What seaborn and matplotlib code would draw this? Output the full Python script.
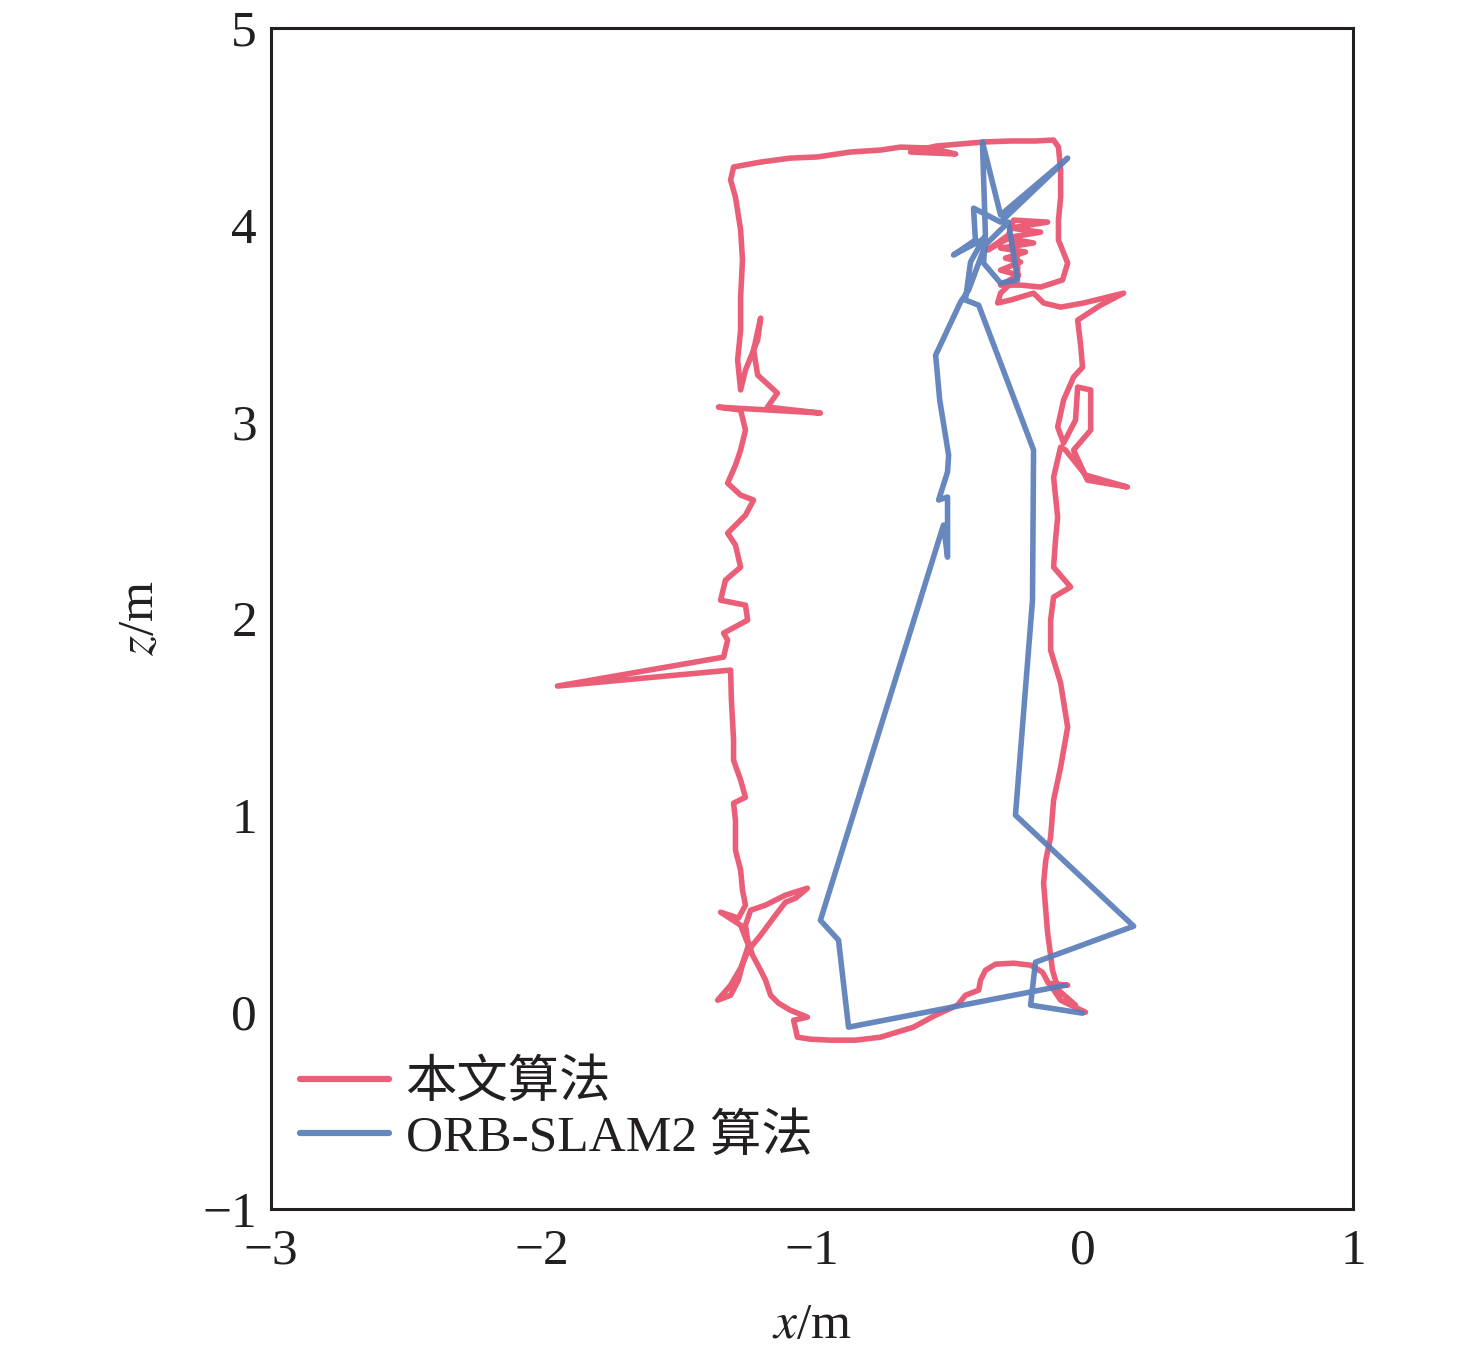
import numpy as np
import pandas as pd
import matplotlib
matplotlib.use("Agg")
import matplotlib.pyplot as plt
import seaborn as sns

# ---------------- data ----------------
ours_x = [0.011, -0.044, -0.081, -0.118, -0.055, -0.126, -0.148, -0.192, -0.255, -0.322,
          -0.359, -0.377, -0.384, -0.433, -0.462, -0.543, -0.625, -0.747, -0.839, -0.932,
          -1.006, -1.054, -1.068, -1.017, -1.080, -1.124, -1.153, -1.172, -1.190, -1.220,
          -1.238, -1.246, -1.227, -1.172, -1.098, -1.017, -1.061, -1.098, -1.135, -1.190,
          -1.235, -1.264, -1.301, -1.349, -1.301, -1.272, -1.253, -1.235, -1.264, -1.338,
          -1.272, -1.246, -1.257, -1.264, -1.283, -1.283, -1.290, -1.246, -1.264, -1.290,
          -1.290, -1.298, -1.301, -1.941, -1.327, -1.312, -1.327, -1.238, -1.246, -1.338,
          -1.320, -1.264, -1.283, -1.312, -1.246, -1.216, -1.264, -1.312, -1.283, -1.264,
          -1.246, -1.264, -1.346, -0.969, -1.165, -1.128, -1.201, -1.216, -1.190, -1.201,
          -1.246, -1.264, -1.275, -1.264, -1.264, -1.257, -1.264, -1.283, -1.301, -1.290,
          -1.190, -1.080, -0.980, -0.858, -0.747, -0.673, -0.562, -0.469, -0.636, -0.543,
          -0.451, -0.366, -0.266, -0.174, -0.107, -0.089, -0.081, -0.081, -0.089, -0.089,
          -0.055, -0.074, -0.155, -0.229, -0.303, -0.237, -0.303, -0.229, -0.285, -0.211,
          -0.303, -0.181, -0.285, -0.155, -0.266, -0.129, -0.255, -0.274, -0.351, -0.266,
          -0.240, -0.240, -0.303, -0.314, -0.266, -0.181, -0.144, -0.081, 0.004, 0.152,
          0.067, -0.018, -0.007, 0.000, -0.033, -0.070, -0.092, -0.070, -0.026, -0.018,
          0.030, 0.030, -0.033, 0.018, 0.166, 0.011, -0.063, -0.081, -0.107, -0.092,
          -0.100, -0.107, -0.044, -0.107, -0.118, -0.118, -0.081, -0.055, -0.081, -0.107,
          -0.118, -0.136, -0.144, -0.136, -0.129, -0.118, -0.111, -0.089, -0.026]
ours_z = [0.000, 0.036, 0.061, 0.137, 0.137, 0.147, 0.203, 0.239, 0.249, 0.244,
          0.213, 0.163, 0.112, 0.086, 0.036, -0.015, -0.076, -0.127, -0.142, -0.142,
          -0.137, -0.127, -0.041, -0.025, 0.010, 0.046, 0.086, 0.163, 0.213, 0.290,
          0.366, 0.442, 0.518, 0.544, 0.595, 0.630, 0.579, 0.559, 0.493, 0.391,
          0.315, 0.224, 0.137, 0.061, 0.086, 0.163, 0.264, 0.340, 0.442, 0.508,
          0.478, 0.544, 0.620, 0.722, 0.823, 0.976, 1.062, 1.092, 1.179, 1.280,
          1.382, 1.585, 1.738, 1.657, 1.804, 1.890, 1.926, 1.992, 2.068, 2.093,
          2.195, 2.261, 2.373, 2.434, 2.525, 2.602, 2.627, 2.688, 2.779, 2.856,
          2.957, 3.059, 3.074, 3.044, 3.074, 3.145, 3.237, 3.364, 3.526, 3.415,
          3.262, 3.161, 3.313, 3.465, 3.633, 3.821, 3.974, 4.141, 4.228, 4.294,
          4.319, 4.339, 4.345, 4.370, 4.380, 4.395, 4.390, 4.360, 4.370, 4.400,
          4.411, 4.421, 4.426, 4.426, 4.431, 4.395, 4.278, 4.141, 4.024, 3.923,
          3.806, 3.720, 3.684, 3.694, 3.694, 3.745, 3.770, 3.811, 3.831, 3.862,
          3.882, 3.908, 3.933, 3.963, 3.984, 4.014, 4.024, 3.948, 3.872, 3.938,
          3.821, 3.735, 3.653, 3.603, 3.618, 3.653, 3.603, 3.582, 3.603, 3.653,
          3.592, 3.516, 3.389, 3.277, 3.227, 3.110, 2.973, 2.891, 3.008, 3.176,
          3.161, 2.957, 2.856, 2.703, 2.668, 2.729, 2.856, 2.871, 2.718, 2.515,
          2.398, 2.261, 2.160, 2.109, 1.992, 1.839, 1.672, 1.448, 1.245, 1.077,
          0.889, 0.772, 0.655, 0.518, 0.401, 0.290, 0.213, 0.112, 0.036]

orb_x = [0.000, -0.192, -0.174, 0.189, -0.248, -0.185, -0.181, -0.384, -0.433, -0.414,
         -0.359, -0.370, -0.303, -0.055, -0.303, -0.403, -0.396, -0.477, -0.359, -0.366,
         -0.303, -0.240, -0.274, -0.359, -0.421, -0.451, -0.543, -0.528, -0.495, -0.499,
         -0.532, -0.499, -0.499, -0.514, -0.969, -0.902, -0.865, -0.063]
orb_z = [-0.005, 0.036, 0.254, 0.437, 1.001, 2.093, 2.856, 3.592, 3.618, 3.811,
         3.948, 4.421, 4.050, 4.339, 4.014, 4.085, 3.923, 3.847, 3.933, 3.806,
         3.704, 3.720, 4.014, 3.898, 3.669, 3.608, 3.338, 3.110, 2.830, 2.745,
         2.602, 2.617, 2.312, 2.475, 0.467, 0.366, -0.076, 0.137]

labels = ["本文算法", "ORB-SLAM2 算法"]
colors = ["#E9506C", "#5A7DBA"]

x_ticks = [-3, -2, -1, 0, 1]
z_ticks = [-1, 0, 1, 2, 3, 4, 5]

df_ours = pd.DataFrame({"x": ours_x, "z": ours_z})
df_orb = pd.DataFrame({"x": orb_x, "z": orb_z})

# ---------------- style ----------------
sns.set_style("white")
fam = ["Liberation Serif", "Noto Sans CJK SC", "DejaVu Sans"]
plt.rcParams["font.family"] = fam
plt.rcParams["mathtext.fontset"] = "stix"
plt.rcParams["axes.unicode_minus"] = True

fig = plt.figure(figsize=(14.76, 13.6), dpi=100)
ax = fig.add_axes([0.1836, 0.1110, 0.7331, 0.8684])

sns.lineplot(data=df_ours, x="x", y="z", sort=False, estimator=None,
             color=colors[0], lw=4.0, alpha=0.92, label=labels[0], ax=ax)
sns.lineplot(data=df_orb, x="x", y="z", sort=False, estimator=None,
             color=colors[1], lw=4.0, alpha=0.92, label=labels[1], ax=ax)

ax.set_xlim(-3, 1)
ax.set_ylim(-1, 5)
ax.set_xticks(x_ticks)
ax.set_yticks(z_ticks)
ax.set_xticklabels([f"{v}".replace("-", "\u2212") for v in x_ticks])
ax.set_yticklabels([f"{v}".replace("-", "\u2212") for v in z_ticks])

for s in ax.spines.values():
    s.set_linewidth(2.2)
    s.set_color("#231f20")
    s.set_visible(True)

ax.tick_params(axis="both", direction="in", length=10, width=1.6, color="#231f20",
               labelsize=37, labelcolor="#231f20", top=False, right=False)
ax.tick_params(axis="x", pad=14)
ax.tick_params(axis="y", pad=10)

ax.set_xlabel("$x$/m", fontsize=37, color="#231f20", labelpad=20)
ax.set_ylabel("$z$/m", fontsize=37, color="#231f20", labelpad=28)

leg = ax.legend(loc="upper left", bbox_to_anchor=(0.027, 0.126), frameon=False,
                borderpad=0, borderaxespad=0, handlelength=1.72, handletextpad=0.33,
                labelspacing=0.12, prop={"family": fam, "size": 37})
for t in leg.get_texts():
    t.set_color("#231f20")
for h in leg.get_lines():
    h.set_linewidth(4.5)

fig.savefig("out.png", dpi=100)
